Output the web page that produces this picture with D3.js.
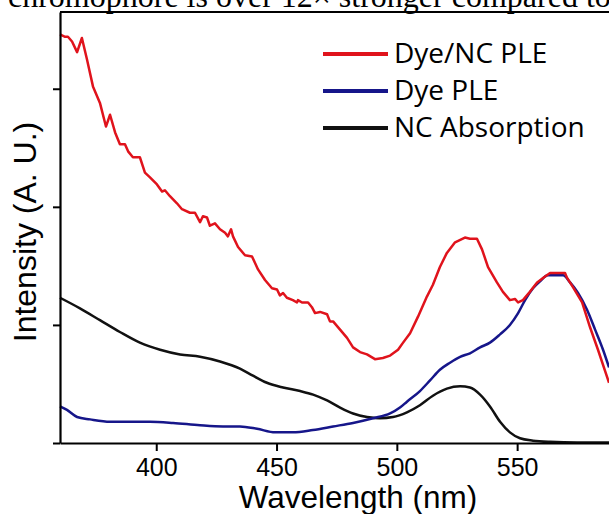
<!DOCTYPE html>
<html>
<head>
<meta charset="utf-8">
<script src="https://cdn.jsdelivr.net/npm/d3@7"></script>
<style>
  body { margin: 0; background: #fff; }
  svg { display: block; }
</style>
</head>
<body>
<div id="chart"></div>
<script>
// wavelength (nm) / intensity (a.u., 1 = one y tick)
var redWl = [360.0, 362.1, 363.3, 365.0, 367.1, 369.1, 371.2, 373.7, 376.6, 379.1, 380.8, 382.9, 384.9, 387.0, 388.3, 390.3, 393.2, 395.3, 397.4, 400.3, 402.4, 403.6, 405.7, 408.6, 410.7, 414.0, 416.1, 418.2, 419.4, 421.1, 422.3, 424.4, 426.5, 428.6, 429.8, 431.1, 431.9, 434.0, 436.9, 439.8, 442.3, 445.2, 448.1, 450.2, 451.4, 452.7, 454.3, 456.8, 458.5, 458.9, 460.6, 463.1, 464.7, 466.0, 468.1, 471.0, 472.2, 473.5, 476.4, 479.3, 481.8, 484.7, 487.6, 490.9, 494.2, 497.2, 500.5, 502.6, 505.5, 508.8, 512.5, 515.0, 517.9, 520.8, 524.2, 528.3, 530.4, 533.3, 535.4, 537.9, 541.6, 544.1, 547.0, 549.1, 550.4, 552.4, 555.3, 558.3, 561.6, 563.7, 565.7, 567.8, 569.9, 570.7, 573.2, 577.0, 580.3, 583.6, 588.2]
var redI = [3.46, 3.44, 3.44, 3.40, 3.31, 3.43, 3.25, 3.02, 2.88, 2.68, 2.78, 2.63, 2.53, 2.53, 2.47, 2.42, 2.42, 2.29, 2.25, 2.19, 2.13, 2.14, 2.09, 2.03, 1.98, 1.95, 1.95, 1.87, 1.92, 1.91, 1.84, 1.86, 1.81, 1.78, 1.75, 1.81, 1.75, 1.66, 1.59, 1.58, 1.47, 1.38, 1.31, 1.30, 1.25, 1.27, 1.23, 1.21, 1.19, 1.21, 1.19, 1.19, 1.15, 1.10, 1.11, 1.09, 1.03, 1.03, 0.96, 0.89, 0.81, 0.77, 0.75, 0.71, 0.72, 0.74, 0.79, 0.85, 0.93, 1.07, 1.24, 1.34, 1.49, 1.61, 1.70, 1.74, 1.73, 1.73, 1.64, 1.49, 1.36, 1.28, 1.21, 1.22, 1.19, 1.21, 1.28, 1.36, 1.41, 1.44, 1.44, 1.44, 1.44, 1.40, 1.32, 1.19, 0.98, 0.79, 0.51]

var blueWl = [360.0, 362.9, 367.1, 372.5, 380.8, 390.3, 397.4, 407.0, 418.2, 427.7, 434.8, 441.9, 449.4, 456.8, 465.1, 473.5, 481.8, 490.1, 497.2, 501.3, 504.2, 509.6, 513.8, 517.9, 522.1, 526.3, 530.4, 534.6, 538.7, 542.9, 547.0, 550.4, 553.3, 556.6, 559.5, 562.8, 566.6, 569.1, 572.0, 575.3, 579.0, 582.4, 585.7, 588.2]
var blueI = [0.31, 0.28, 0.22, 0.20, 0.18, 0.18, 0.18, 0.17, 0.15, 0.14, 0.14, 0.12, 0.09, 0.09, 0.11, 0.14, 0.17, 0.21, 0.25, 0.30, 0.35, 0.44, 0.53, 0.62, 0.68, 0.73, 0.76, 0.81, 0.85, 0.92, 1.00, 1.10, 1.21, 1.31, 1.37, 1.42, 1.42, 1.42, 1.36, 1.27, 1.13, 0.96, 0.79, 0.64]

var blackWl = [360.0, 368.3, 376.6, 384.9, 393.2, 401.6, 409.9, 418.2, 426.5, 434.8, 440.2, 446.0, 452.7, 459.8, 465.2, 471.0, 476.4, 481.8, 487.6, 493.0, 498.4, 504.2, 509.6, 515.0, 520.8, 526.3, 530.4, 534.6, 538.7, 542.9, 547.0, 551.2, 556.6, 563.7, 575.0, 590.0]
var blackI = [1.23, 1.14, 1.04, 0.94, 0.85, 0.79, 0.75, 0.73, 0.69, 0.63, 0.57, 0.51, 0.47, 0.44, 0.41, 0.36, 0.30, 0.25, 0.22, 0.21, 0.22, 0.26, 0.32, 0.40, 0.46, 0.48, 0.47, 0.41, 0.31, 0.18, 0.09, 0.04, 0.02, 0.01, 0.005, 0.005]

var xTicks = [400, 450, 500, 550]
var yTicks = [0, 1, 2, 3]
var seriesNames = ['Dye/NC PLE', 'Dye PLE', 'NC Absorption']
var seriesColors = ['#e0131c', '#16168a', '#111111']

var W = 609, H = 514
var mLeft = 60, mBottom = 443, mTop = 12

var svg = d3.select('#chart')
  .append('svg')
  .attr('width', W)
  .attr('height', H)

// caption text cut off above the figure
svg.append('text')
  .attr('x', 8)
  .attr('y', 7)
  .attr('font-family', '"Liberation Serif", "Times New Roman", serif')
  .attr('font-size', 32)
  .attr('fill', '#000')
  .text('chromophore is over 12\u00d7 stronger compared to')

var x = d3.scaleLinear().domain([360, 600]).range([mLeft, mLeft + 240 * 2.406])
var y = d3.scaleLinear().domain([0, 3.65]).range([mBottom, mTop])

var toPts = (wl, vals) => wl.map((w, i) => ({ w: w, v: vals[i] }))
var series = [
  { name: seriesNames[0], color: seriesColors[0], pts: toPts(redWl, redI), curve: d3.curveLinear },
  { name: seriesNames[1], color: seriesColors[1], pts: toPts(blueWl, blueI), curve: d3.curveMonotoneX },
  { name: seriesNames[2], color: seriesColors[2], pts: toPts(blackWl, blackI), curve: d3.curveMonotoneX }
]

var plot = svg.append('g')

// draw black first, red on top
series.slice().reverse().forEach(s => {
  plot.append('path')
    .datum(s.pts)
    .attr('fill', 'none')
    .attr('stroke', s.color)
    .attr('stroke-width', 2.5)
    .attr('stroke-linejoin', 'round')
    .attr('d', d3.line().curve(s.curve).x(d => x(d.w)).y(d => y(d.v)))
})

// axes
var xAxis = svg.append('g')
  .attr('transform', 'translate(0,' + mBottom + ')')
  .call(d3.axisBottom(x).tickValues(xTicks).tickSize(8).tickSizeOuter(0).tickFormat(d3.format('d')))
xAxis.select('.domain').attr('stroke-width', 2.2)
xAxis.selectAll('.tick line').attr('stroke-width', 2)
xAxis.selectAll('text')
  .attr('font-family', '"Liberation Sans", Arial, sans-serif')
  .attr('font-size', 25)
  .attr('fill', '#000')
  .attr('dy', 0)
  .attr('y', 33)

var yAxis = svg.append('g')
  .attr('transform', 'translate(' + mLeft + ',0)')
  .call(d3.axisLeft(y).tickValues(yTicks).tickSize(7).tickSizeOuter(0).tickFormat(''))
yAxis.select('.domain').attr('stroke-width', 2.2)
yAxis.selectAll('.tick line').attr('stroke-width', 2)

// top frame line
svg.append('line')
  .attr('x1', mLeft)
  .attr('x2', W)
  .attr('y1', y(3.65))
  .attr('y2', y(3.65))
  .attr('stroke', '#000')
  .attr('stroke-width', 2.2)

// axis titles
svg.append('text')
  .attr('x', 358)
  .attr('y', 508)
  .attr('text-anchor', 'middle')
  .attr('font-family', '"Liberation Sans", Arial, sans-serif')
  .attr('font-size', 31.5)
  .text('Wavelength (nm)')

svg.append('text')
  .attr('transform', 'translate(36,232) rotate(-90)')
  .attr('text-anchor', 'middle')
  .attr('font-family', '"Liberation Sans", Arial, sans-serif')
  .attr('font-size', 32)
  .text('Intensity (A. U.)')

// legend
var legend = svg.append('g')
  .selectAll('g')
  .data(series)
  .enter()
  .append('g')
  .attr('transform', (d, i) => 'translate(323,' + (54 + i * 37) + ')')

legend.append('line')
  .attr('x1', 0)
  .attr('x2', 65)
  .attr('stroke', d => d.color)
  .attr('stroke-width', 4)

legend.append('text')
  .attr('x', 71)
  .attr('y', 9)
  .attr('font-family', '"Open Sans", "Noto Sans", sans-serif')
  .attr('font-size', 28)
  .text(d => d.name)
</script>
</body>
</html>
